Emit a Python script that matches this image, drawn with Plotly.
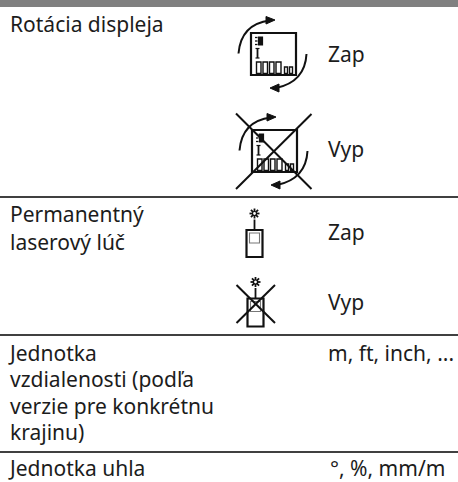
import math
import plotly.graph_objects as go

W, H = 458, 482
FONT = "Noto Sans"
TEXT_SIZE = 21
TEXT_COLOR = "#1c1c1c"

row_rules = [197, 335, 452]
left_labels = ["Rotácia displeja", "Permanentný", "laserový lúč", "Jednotka",
               "vzdialenosti (podľa", "verzie pre konkrétnu", "krajinu)", "Jednotka uhla"]
left_x = [8, 8, 8, 6, 8, 8, 8, 6]
left_y = [24, 214, 242, 353, 379, 406, 432, 468]
right_labels = ["Zap", "Vyp", "Zap", "Vyp", "m, ft, inch, ...", "°, %, mm/m"]
right_x = [326, 326, 326, 326, 326, 328]
right_y = [54, 149, 232, 302, 353, 468]

shapes = []


def line(x0, y0, x1, y1, w=2, c="#111"):
    shapes.append(dict(type="line", x0=x0, y0=y0, x1=x1, y1=y1,
                       line=dict(color=c, width=w)))


def box(x0, y0, x1, y1, w=2, c="#111", fill="rgba(0,0,0,0)"):
    shapes.append(dict(type="rect", x0=x0, y0=y0, x1=x1, y1=y1, fillcolor=fill,
                       line=dict(color=c, width=w)))


def path(d, w=2, c="#111", fill="rgba(0,0,0,0)"):
    shapes.append(dict(type="path", path=d, fillcolor=fill, line=dict(color=c, width=w)))


def display(dx, dy):
    box(251 + dx, 33 + dy, 296 + dx, 75 + dy, 2.2)
    for x0, x1, top in [(256.5, 261, 62), (263, 267.5, 62), (269.5, 274, 62), (276, 281, 62),
                        (284.5, 287.5, 67), (289.5, 292.5, 67)]:
        box(x0 + dx, top + dy, x1 + dx, 73.5 + dy, 1.4)
    box(258.5 + dx, 37 + dy, 262.5 + dx, 45 + dy, 1.2, fill="#111")
    for yy in (37.5, 41, 44.5):
        line(255 + dx, yy + dy, 257.5 + dx, yy + dy, 1.3)
    line(257.5 + dx, 48.5 + dy, 257.5 + dx, 58 + dy, 1.8)
    line(255.5 + dx, 48.5 + dy, 259.5 + dx, 48.5 + dy, 1.2)
    line(255.5 + dx, 58 + dy, 259.5 + dx, 58 + dy, 1.2)
    path(f"M{238.5+dx},{53.5+dy} Q{241+dx},{24+dy} {270+dx},{20.5+dy}", 2)
    path(f"M{266+dx},{16.5+dy} L{275+dx},{20+dy} L{266+dx},{24+dy} Z", 1, fill="#111")
    path(f"M{306.5+dx},{54+dy} Q{305+dx},{82+dy} {276+dx},{88+dy}", 2)
    path(f"M{279+dx},{84+dy} L{270+dx},{88+dy} L{279+dx},{92+dy} Z", 1, fill="#111")


def laser(cx, star_y, top, bottom):
    for ang in range(0, 180, 45):
        a = math.radians(ang)
        line(cx - 5 * math.cos(a), star_y - 5 * math.sin(a),
             cx + 5 * math.cos(a), star_y + 5 * math.sin(a), 1.8)
    shapes.append(dict(type="circle", x0=cx - 2, y0=star_y - 2, x1=cx + 2, y1=star_y + 2,
                       fillcolor="white", line=dict(color="#111", width=1.2)))
    line(cx, star_y + 6, cx, top, 1.8)
    box(cx - 8, top, cx + 8, bottom, 2.2)
    box(cx - 5, top + 3, cx + 5, top + 13, 1.1, c="#777")


shapes.append(dict(type="rect", x0=0, y0=0, x1=W, y1=7, fillcolor="#808080", line=dict(width=0)))
for r in row_rules:
    line(0, r, W, r, 1.5, "#000")

display(0, 0)
display(1, 97)
line(236, 113.5, 311.5, 189, 2)
line(236, 189, 311.5, 114, 2)

laser(254.5, 213.5, 230, 257)
laser(255.5, 282, 298.5, 326.5)
line(236.5, 285, 275, 323, 2)
line(236.5, 323, 275, 285, 2)

annotations = []
for t, x, y in zip(left_labels, left_x, left_y):
    annotations.append(dict(x=x, y=y, text=t, xanchor="left", yanchor="middle", showarrow=False,
                            font=dict(family=FONT, size=TEXT_SIZE, color=TEXT_COLOR)))
for t, x, y in zip(right_labels, right_x, right_y):
    annotations.append(dict(x=x, y=y, text=t, xanchor="left", yanchor="middle", showarrow=False,
                            font=dict(family=FONT, size=TEXT_SIZE, color=TEXT_COLOR)))

fig = go.Figure()
fig.update_layout(
    width=W, height=H, margin=dict(l=0, r=0, t=0, b=0), showlegend=False,
    paper_bgcolor="white", plot_bgcolor="white",
    xaxis=dict(range=[0, W], visible=False, fixedrange=True),
    yaxis=dict(range=[H, 0], visible=False, fixedrange=True),
    shapes=shapes, annotations=annotations,
)
fig.write_html("out.html", config={"displayModeBar": False},
               post_script="document.body.style.margin='0';document.documentElement.style.overflow='hidden';")
